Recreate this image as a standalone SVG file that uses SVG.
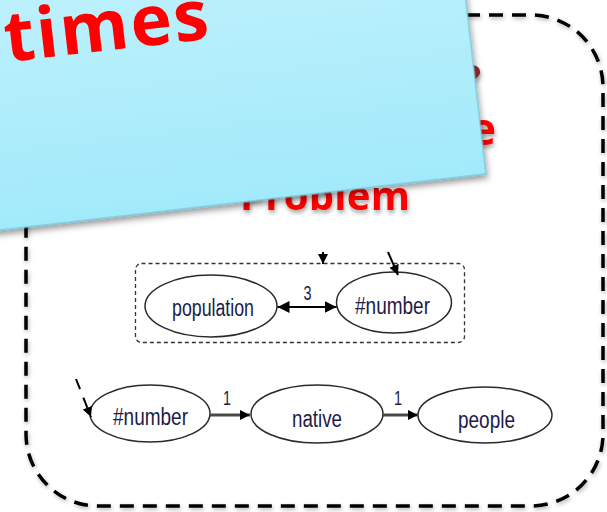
<svg xmlns="http://www.w3.org/2000/svg" width="607" height="512" viewBox="0 0 607 512">
  <defs>
    <linearGradient id="noteFill" x1="0" y1="0" x2="0" y2="1">
      <stop offset="0" stop-color="#c4f2fc"/>
      <stop offset="1" stop-color="#a2eafb"/>
    </linearGradient>
    <filter id="noteShadow" x="-10%" y="-10%" width="120%" height="130%">
      <feDropShadow dx="1" dy="4" stdDeviation="3" flood-color="#000" flood-opacity="0.4"/>
    </filter>
    <filter id="softShadow" x="-5%" y="-5%" width="110%" height="110%">
      <feDropShadow dx="1" dy="2" stdDeviation="2" flood-color="#000" flood-opacity="0.3"/>
    </filter>
    <filter id="titleShadow" x="-10%" y="-20%" width="120%" height="160%">
      <feDropShadow dx="1" dy="3" stdDeviation="2" flood-color="#000" flood-opacity="0.35"/>
    </filter>
    <marker id="head" viewBox="0 0 12 12" refX="12" refY="6" markerWidth="12" markerHeight="12" markerUnits="userSpaceOnUse" orient="auto-start-reverse">
      <path d="M0,0 L12,6 L0,12 z" fill="#000"/>
    </marker>
    <marker id="headSmall" viewBox="0 0 10 10" refX="10" refY="5" markerWidth="10" markerHeight="10" markerUnits="userSpaceOnUse" orient="auto">
      <path d="M0,0 L10,5 L0,10 z" fill="#000"/>
    </marker>
    <style>
      .frame { fill: none; stroke: #000; stroke-width: 3.5; stroke-dasharray: 14 9; }
      .group { fill: none; stroke: #333; stroke-width: 1.3; stroke-dasharray: 4 3; }
      .node ellipse { fill: #fff; stroke: #2a2a2a; stroke-width: 1.5; }
      .node text { font-family: "Liberation Sans", Arial, sans-serif; font-size: 23px; fill: #1c1c48; text-anchor: middle; }
      .lbl { font-family: "Liberation Sans", Arial, sans-serif; font-size: 21px; fill: #1c1c48; text-anchor: middle; }
      .title { font-family: "Open Sans", "Noto Sans", sans-serif; font-weight: 700; font-size: 40px; fill: #ff0000; }
      .edge { stroke: #000; stroke-width: 2; fill: none; }
      .edgeBold { stroke: #4a4a4a; stroke-width: 3.2; fill: none; }
    </style>
  </defs>

  <rect width="607" height="512" fill="#fff"/>

  <!-- outer dashed frame -->
  <rect class="frame" x="26" y="15" width="577" height="491" rx="72" ry="72" filter="url(#softShadow)"/>

  <!-- slide title text partly behind the note -->
  <g id="title" filter="url(#titleShadow)">
    <text class="title" x="462" y="93" style="fill:#9b2b2b">?</text>
    <text class="title" x="470" y="145" style="font-size:44px">e</text>
    <text class="title" x="240" y="210" textLength="170" lengthAdjust="spacing">Problem</text>
  </g>

  <!-- dotted group box -->
  <rect id="cluster" class="group" x="135.5" y="263.5" width="329" height="79" rx="6" ry="6"/>

  <!-- nodes -->
  <g id="population" class="node">
    <ellipse cx="211" cy="306" rx="66" ry="31"/>
    <text x="213" y="316" textLength="82" lengthAdjust="spacingAndGlyphs">population</text>
  </g>
  <g id="number-top" class="node">
    <ellipse cx="394" cy="302.5" rx="57.5" ry="30.5"/>
    <text x="392.5" y="314" textLength="75" lengthAdjust="spacingAndGlyphs">#number</text>
  </g>
  <g id="number-bottom" class="node">
    <ellipse cx="150" cy="413.5" rx="60" ry="28.5"/>
    <text x="150.5" y="425" textLength="75" lengthAdjust="spacingAndGlyphs">#number</text>
  </g>
  <g id="native" class="node">
    <ellipse cx="317" cy="414" rx="66" ry="29"/>
    <text x="317" y="427" textLength="50" lengthAdjust="spacingAndGlyphs">native</text>
  </g>
  <g id="people" class="node">
    <ellipse cx="485" cy="415" rx="67" ry="28"/>
    <text x="486.5" y="428" textLength="57" lengthAdjust="spacingAndGlyphs">people</text>
  </g>

  <!-- connectors -->
  <g id="edges">
    <line class="edge" x1="277.5" y1="307" x2="336.5" y2="307" marker-start="url(#head)" marker-end="url(#head)"/>
    <text class="lbl" x="307.5" y="300" textLength="8" lengthAdjust="spacingAndGlyphs">3</text>

    <line class="edge" x1="388" y1="252" x2="398" y2="275" marker-end="url(#headSmall)"/>
    <line class="edge" x1="323" y1="252" x2="323" y2="264" marker-end="url(#headSmall)"/>

    <line class="edge" x1="76" y1="379" x2="91" y2="417" stroke-dasharray="11 9" marker-end="url(#headSmall)"/>

    <line class="edgeBold" x1="210" y1="415" x2="250" y2="415" marker-end="url(#headSmall)"/>
    <text class="lbl" x="227" y="405" textLength="8" lengthAdjust="spacingAndGlyphs">1</text>

    <line class="edgeBold" x1="383" y1="415" x2="418" y2="415" marker-end="url(#headSmall)"/>
    <text class="lbl" x="398" y="405" textLength="8" lengthAdjust="spacingAndGlyphs">1</text>
  </g>

  <!-- sticky note on top -->
  <g id="note" transform="rotate(-6.6 486 174)">
    <rect x="-200" y="-120" width="686" height="294" fill="url(#noteFill)" stroke="#5fbcd0" stroke-width="1" filter="url(#noteShadow)"/>
  </g>
  <text id="note-text" x="7" y="62" transform="rotate(-6.6 7 62)" font-family="'Open Sans', 'Noto Sans', sans-serif" font-weight="700" font-size="70" fill="#ff0000" textLength="205" lengthAdjust="spacing">times</text>
</svg>
